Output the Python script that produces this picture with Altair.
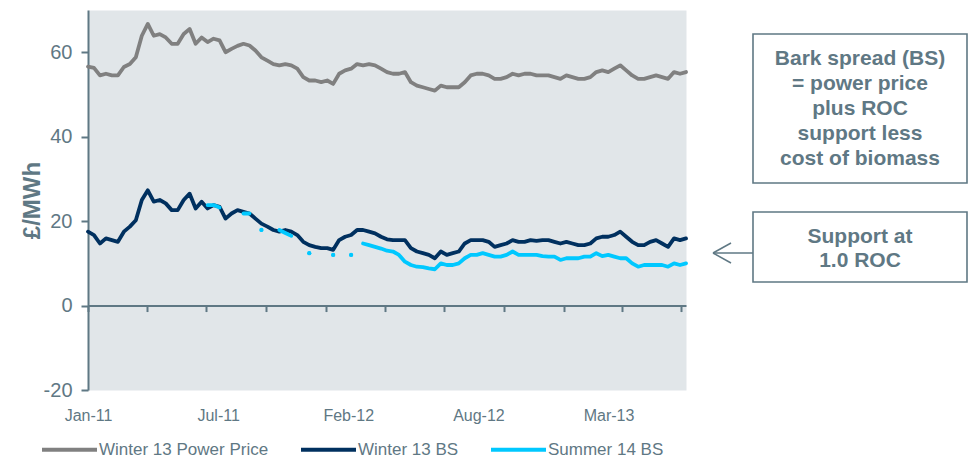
import altair as alt
import pandas as pd

# ---- series -------------------------------------------------------------
SERIES = ["Winter 13 Power Price", "Winter 13 BS", "Summer 14 BS"]
COLOURS = ["#808080", "#00305f", "#00c8ff"]

# sampling grid: 101 evenly spaced observations, Jan 2011 - Jul 2013
START, END = "2011-01-01", "2013-07-08"

power_price = [
    56.6, 56.3, 54.5, 54.9, 54.5, 54.5, 56.5, 57.2, 58.8, 63.9,
    66.7, 63.9, 64.3, 63.5, 62.0, 62.0, 64.3, 65.5, 62.0, 63.5,
    62.4, 63.2, 62.8, 60.0, 60.8, 61.5, 62.0, 61.6, 60.4, 58.8,
    58.0, 57.2, 56.9, 57.2, 56.9, 56.1, 54.1, 53.3, 53.3, 52.9,
    53.3, 52.5, 54.9, 55.7, 56.1, 57.2, 56.9, 57.2, 56.9, 56.1,
    55.3, 54.9, 54.9, 55.3, 52.9, 52.1, 51.7, 51.3, 50.9, 52.1,
    51.7, 51.7, 51.7, 52.9, 54.5, 54.9, 54.9, 54.5, 53.7, 53.7,
    54.1, 54.9, 54.5, 54.9, 54.9, 54.5, 54.5, 54.5, 54.1, 53.7,
    54.5, 54.1, 53.7, 53.7, 54.1, 55.3, 55.7, 55.3, 56.1, 56.9,
    55.7, 54.5, 53.7, 53.7, 54.1, 54.5, 54.1, 53.7, 55.3, 54.9,
    55.3,
]

winter13_bs = [
    17.5, 16.7, 14.7, 15.9, 15.5, 15.1, 17.5, 18.7, 20.2, 25.0,
    27.3, 24.6, 25.0, 24.2, 22.6, 22.6, 25.0, 26.5, 23.0, 24.6,
    23.0, 23.8, 23.4, 20.6, 21.8, 22.6, 22.2, 21.8, 20.6, 19.4,
    18.7, 17.9, 17.5, 17.9, 17.5, 16.7, 15.1, 14.3, 13.9, 13.6,
    13.6, 13.2, 15.5, 16.3, 16.7, 17.9, 17.9, 17.5, 17.1, 16.3,
    15.7, 15.5, 15.5, 15.5, 13.6, 12.8, 12.4, 12.0, 11.2, 12.8,
    12.0, 12.4, 12.8, 14.7, 15.5, 15.5, 15.5, 15.1, 13.9, 14.3,
    14.7, 15.5, 15.1, 15.1, 15.5, 15.3, 15.5, 15.5, 15.1, 14.7,
    15.1, 14.7, 14.3, 14.3, 14.7, 15.9, 16.3, 16.3, 16.7, 17.5,
    16.3, 15.1, 14.3, 14.3, 15.1, 15.5, 14.7, 13.9, 15.9, 15.5,
    15.9,
]

# Summer 14 contract: sparse quotes until mid-2012 (None = no quote)
summer14_bs = [
    None, None, None, None, None, None, None, None, None, None,
    None, None, None, None, None, None, None, None, None, None,
    23.8, 23.8, 23.2, None, None, None, 21.8, 21.8, None, 17.9,
    None, None, 17.9, 17.2, 16.5, None, None, 12.4, None, None,
    None, 12.0, None, None, 12.0, None, 14.7, 14.3, 13.9, 13.5,
    13.0, 12.8, 12.0, 10.4, 9.6, 9.2, 9.1, 8.8, 8.6, 10.0,
    9.6, 9.6, 10.0, 11.2, 12.0, 12.0, 12.4, 12.0, 11.6, 11.6,
    12.0, 12.8, 12.0, 12.0, 12.0, 12.0, 11.7, 11.6, 11.6, 10.8,
    11.2, 11.2, 11.2, 11.6, 11.6, 12.4, 11.7, 12.0, 11.6, 11.2,
    11.2, 10.0, 9.2, 9.6, 9.6, 9.6, 9.6, 9.2, 10.0, 9.6,
    10.0,
]

# axis: quarterly tick marks, labels every 200 days
QUARTER_TICKS = [
    "2011-01-01", "2011-04-01", "2011-07-01", "2011-10-01",
    "2012-01-01", "2012-04-01", "2012-07-01", "2012-10-01",
    "2013-01-01", "2013-04-01", "2013-07-01",
]
LABEL_DATES = ["2011-01-01", "2011-07-20", "2012-02-05", "2012-08-23", "2013-03-11"]
Y_TICKS = [-20, 0, 20, 40, 60]

BOX_DEFINITION = ["Bark spread (BS)", "= power price", "plus ROC", "support less", "cost of biomass"]
BOX_SUPPORT = ["Support at", "1.0 ROC"]

# ---- styling ------------------------------------------------------------
SLATE = "#5f7884"
PLOT_BG = "#e1e6e9"
FONT = "Liberation Sans"

W, H = 598, 380


def dt(s):
    t = pd.Timestamp(s)
    return alt.DateTime(year=t.year, month=t.month, date=t.day)


# ---- long-form table, broken into runs where quotes are missing -----------
dates = pd.date_range(START, END, periods=len(power_price))
rows = []
for name, vals in zip(SERIES, (power_price, winter13_bs, summer14_bs)):
    run, gap = 0, True
    for d, v in zip(dates, vals):
        if v is None:
            gap = True
            continue
        if gap:
            run += 1
            gap = False
        rows.append({"date": d, "value": v, "series": name, "run": f"{name}-{run}"})
df = pd.DataFrame(rows)
run_len = df.groupby("run")["run"].transform("size")
single_quotes = df[run_len == 1]

x_scale = alt.Scale(domain=[dt(START), dt(END)], nice=False)
y_scale = alt.Scale(domain=[-20, 70], nice=False, zero=False)

y_axis = alt.Axis(
    values=Y_TICKS, grid=False, title="£/MWh", labelExpr="'' + datum.value",
    titleFont=FONT, titleFontSize=24, titleFontWeight="bold", titleColor=SLATE,
    titleAngle=270, titleX=-56, titleY=H / 2, titleAlign="center", titleBaseline="middle",
    labelFont=FONT, labelFontSize=20, labelColor=SLATE, labelPadding=9,
    tickSize=7, tickWidth=2, tickColor=SLATE,
    domainColor=SLATE, domainWidth=2,
)

# month labels along the bottom edge
label_axis = alt.Axis(
    orient="bottom", values=[dt(s) for s in LABEL_DATES], format="%b-%y",
    domain=False, ticks=False, tickSize=0, grid=False, title=None,
    labelFont=FONT, labelFontSize=16, labelColor=SLATE, labelPadding=17,
    labelFlush=False, labelOverlap=False,
)

# axis line with tick marks, crossing at zero
tick_axis = alt.Axis(
    orient="bottom", offset=-H * 20 / 90, values=[dt(s) for s in QUARTER_TICKS],
    labels=False, grid=False, title=None,
    tickSize=6, tickWidth=2, tickColor=SLATE,
    domain=True, domainColor=SLATE, domainWidth=2,
)

legend = alt.Legend(
    orient="none", legendX=-48, legendY=410, direction="horizontal", columns=3,
    title=None, padding=0, symbolType="stroke", symbolSize=3025, symbolStrokeWidth=4,
    labelFont=FONT, labelFontSize=17, labelColor=SLATE, labelOffset=0, labelLimit=400,
    columnPadding=24,
)

lines = alt.Chart(df).mark_line(strokeWidth=3.8, strokeCap="round", strokeJoin="round").encode(
    x=alt.X("date:T", scale=x_scale, axis=label_axis),
    y=alt.Y("value:Q", scale=y_scale, axis=y_axis),
    color=alt.Color("series:N", scale=alt.Scale(domain=SERIES, range=COLOURS), legend=legend),
    detail="run:N",
)

dots = alt.Chart(single_quotes).mark_circle(size=18, opacity=1, color=COLOURS[2]).encode(
    x=alt.X("date:T", scale=x_scale, axis=tick_axis),
    y=alt.Y("value:Q", scale=y_scale, axis=y_axis),
)

# ---- annotation boxes and arrow (right of the plot) -----------------------
one = pd.DataFrame({"k": [0]})

box_def = alt.Chart(one).mark_rect(fillOpacity=0, stroke=SLATE, strokeWidth=1.6).encode(
    x=alt.value(665), x2=alt.value(879), y=alt.value(24), y2=alt.value(173)
)
text_def = alt.Chart(one).mark_text(
    text=BOX_DEFINITION, font=FONT, fontSize=21, fontWeight="bold", color=SLATE,
    align="center", baseline="middle", lineHeight=25,
).encode(x=alt.value(772), y=alt.value(48.5))

box_sup = alt.Chart(one).mark_rect(fillOpacity=0, stroke=SLATE, strokeWidth=1.6).encode(
    x=alt.value(665), x2=alt.value(879), y=alt.value(202), y2=alt.value(272)
)
text_sup = alt.Chart(one).mark_text(
    text=BOX_SUPPORT, font=FONT, fontSize=21, fontWeight="bold", color=SLATE,
    align="center", baseline="middle", lineHeight=23.5,
).encode(x=alt.value(772), y=alt.value(227))

shaft = alt.Chart(one).mark_rule(color=SLATE, strokeWidth=1.5).encode(
    x=alt.value(625), x2=alt.value(665), y=alt.value(243)
)
head_up = alt.Chart(one).mark_rule(color=SLATE, strokeWidth=1.5).encode(
    x=alt.value(625), y=alt.value(243), x2=alt.value(643), y2=alt.value(233)
)
head_down = alt.Chart(one).mark_rule(color=SLATE, strokeWidth=1.5).encode(
    x=alt.value(625), y=alt.value(243), x2=alt.value(643), y2=alt.value(253)
)

chart = (
    alt.layer(lines, dots, box_def, text_def, box_sup, text_sup, shaft, head_up, head_down)
    .resolve_axis(x="independent")
    .properties(
        width=W, height=H,
        autosize=alt.AutoSizeParams(type="none"),
        padding={"left": 88, "top": 10, "right": 283, "bottom": 68},
        background="white",
    )
    .configure_view(fill=PLOT_BG, strokeOpacity=0)
)

chart.save("out.html", embed_options={"renderer": "svg", "actions": False})
